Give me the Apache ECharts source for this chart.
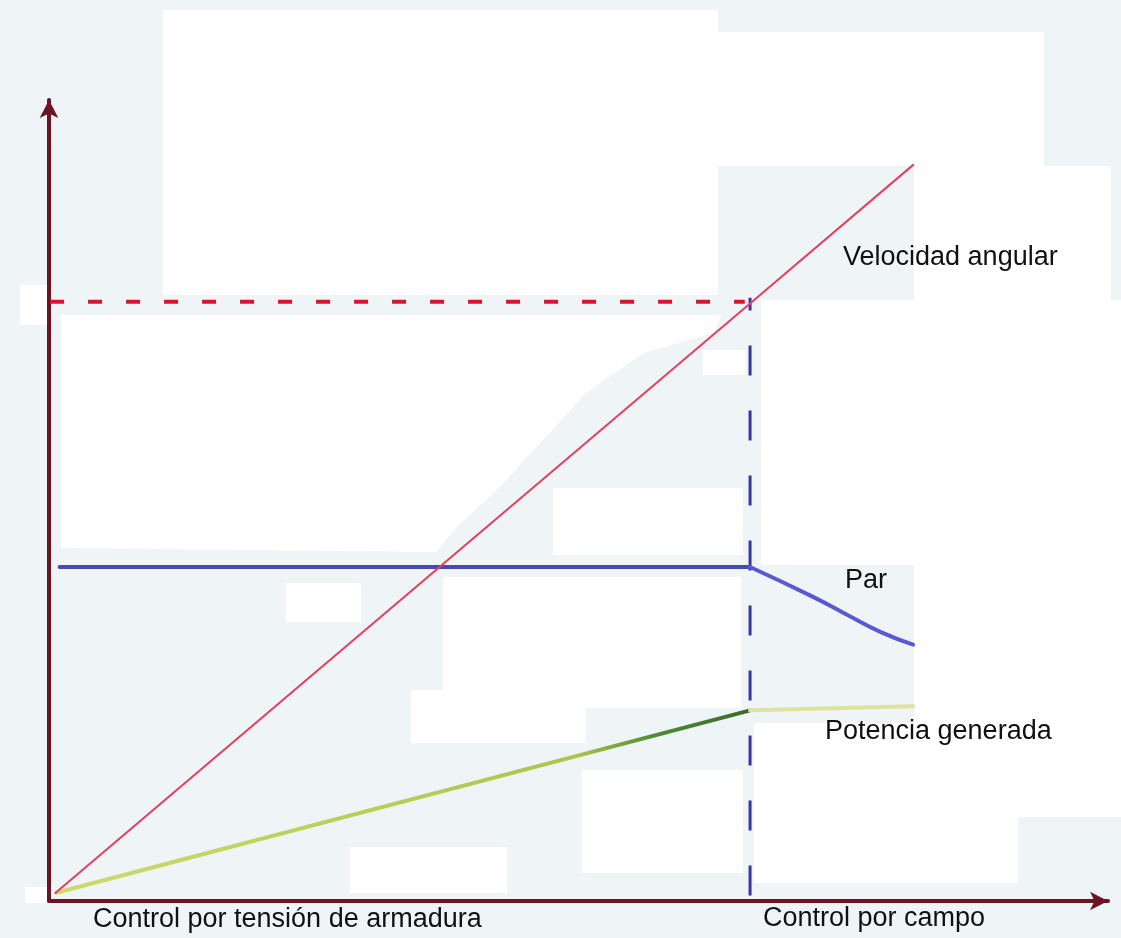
<!DOCTYPE html>
<html>
<head>
<meta charset="utf-8">
<script src="https://cdn.jsdelivr.net/npm/echarts@6/dist/echarts.min.js"></script>
<style>
    html, body { margin: 0; padding: 0; background: #eff4f6; }
    #chart { width: 1121px; height: 938px; }
</style>
</head>
<body>
<div id="chart"></div>
<script>
// curves, in axis units (both axes run 0..10)
const velocidad = [[0.06, 0.10], [6.62, 7.46], [8.16, 9.19]];
const parArmadura = [[0.10, 4.17], [6.62, 4.17]];
const parCampo = [[6.62, 4.17], [7.21, 3.80], [7.54, 3.57], [7.85, 3.36], [8.16, 3.20]];
const potenciaArmadura = [[0.06, 0.10], [6.62, 2.38]];
const potenciaCampo = [[6.62, 2.38], [8.16, 2.43]];
const velocidadBase = [[0.01, 7.48], [6.57, 7.48]];
const limiteCampo = [[6.62, 0.07], [6.62, 7.53]];

const labels = ['Velocidad angular', 'Par', 'Potencia generada', 'Control por tensión de armadura', 'Control por campo'];

// white patches of the scanned sheet
const patches = [
    [163, 10, 718, 295], [718, 32, 1044, 166], [914, 166, 1111, 300], [20, 285, 50, 325],
    [703, 350, 746, 375], [553, 488, 743, 555], [761, 300, 1121, 565], [914, 565, 1121, 817],
    [286, 583, 361, 622], [443, 577, 741, 708], [411, 690, 586, 743], [582, 770, 743, 873],
    [754, 723, 1018, 883], [350, 847, 507, 893], [25, 887, 54, 903]
];
const blob = [[61, 315], [721, 315], [714, 333], [643, 353], [586, 393], [543, 440], [500, 487], [457, 527], [436, 552], [61, 548]];

const chart = echarts.init(document.getElementById('chart'));

const font = '27px "Liberation Sans"';
const textAt = (text, x, y) => ({
    type: 'text', x, y, z: 5,
    style: { text, font, fill: '#111111', verticalAlign: 'middle' }
});

const axisStyle = {
    show: true,
    symbol: ['none', 'arrow'],
    symbolSize: [14, 18],
    lineStyle: { color: '#6b1424', width: 4 }
};

const lineSeries = (data, color, width, extra) => Object.assign({
    type: 'line',
    data,
    showSymbol: false,
    silent: true,
    lineStyle: { color, width, cap: 'round' }
}, extra || {});

chart.setOption({
    backgroundColor: '#eff4f6',
    animation: false,
    grid: { left: 49, right: 13, top: 100, bottom: 37 },
    xAxis: {
        type: 'value', min: 0, max: 10,
        axisLine: axisStyle,
        axisTick: { show: false },
        axisLabel: { show: false },
        splitLine: { show: false }
    },
    yAxis: {
        type: 'value', min: 0, max: 10,
        axisLine: axisStyle,
        axisTick: { show: false },
        axisLabel: { show: false },
        splitLine: { show: false }
    },
    graphic: [
        ...patches.map(p => ({
            type: 'rect', z: 0, silent: true,
            shape: { x: p[0], y: p[1], width: p[2] - p[0], height: p[3] - p[1] },
            style: { fill: '#ffffff' }
        })),
        { type: 'polygon', z: 0, silent: true, shape: { points: blob }, style: { fill: '#ffffff' } },
        textAt(labels[0], 843, 258),
        textAt(labels[1], 845, 581),
        textAt(labels[2], 825, 732),
        textAt(labels[3], 93, 920),
        textAt(labels[4], 763, 919)
    ],
    series: [
        lineSeries(limiteCampo, '#3535a8', 3, { lineStyle: { color: '#3535a8', width: 3, type: [30, 35] } }),
        lineSeries(velocidadBase, '#d8142e', 4, { lineStyle: { color: '#d8142e', width: 4, type: [14, 24] } }),
        lineSeries(potenciaArmadura, '#c6d65c', 4, {
            lineStyle: {
                width: 4,
                color: new echarts.graphic.LinearGradient(0, 0, 1, 0, [
                    { offset: 0, color: '#cddb6a' },
                    { offset: 0.75, color: '#aec44e' },
                    { offset: 0.86, color: '#4f8a35' },
                    { offset: 1, color: '#3a6a2a' }
                ])
            }
        }),
        lineSeries(potenciaCampo, '#dfe29e', 4),
        lineSeries(parArmadura, '#4848b8', 4),
        lineSeries(parCampo, '#5a5ad0', 4, { smooth: true }),
        lineSeries(velocidad, '#e4405c', 2)
    ]
});
</script>
</body>
</html>
